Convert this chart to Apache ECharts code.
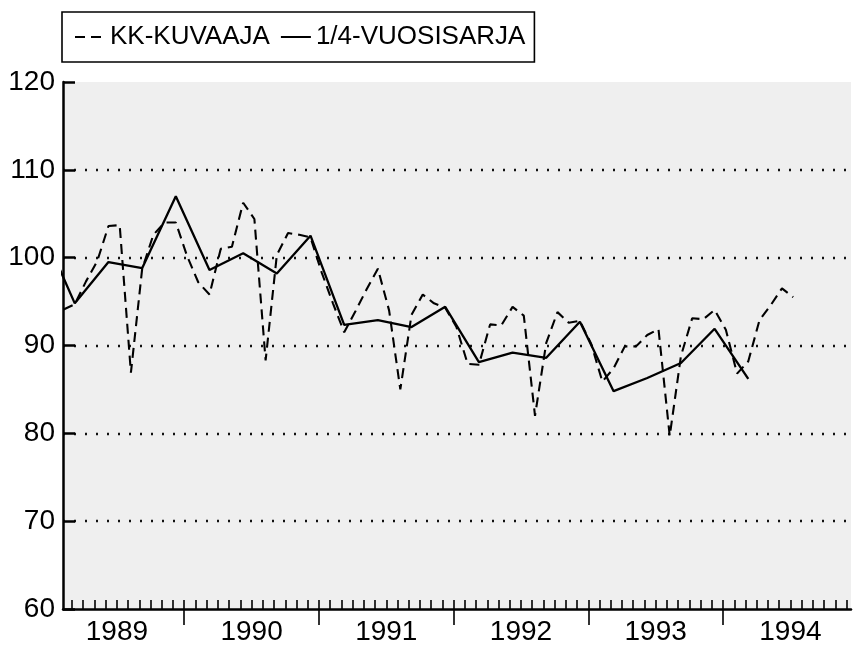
<!DOCTYPE html>
<html><head><meta charset="utf-8">
<script src="https://cdn.jsdelivr.net/npm/echarts@6/dist/echarts.min.js"></script>
<style>html,body{margin:0;padding:0;background:#fff}#c{width:854px;height:647px}</style>
</head><body><div id="c"></div>
<script>
// Tick / category labels
const years = ['1989', '1990', '1991', '1992', '1993', '1994'];
const yTicks = [60, 70, 80, 90, 100, 110, 120];
const seriesNames = ['KK-KUVAAJA', '1/4-VUOSISARJA'];

// Monthly series (KK-KUVAAJA), first value = Feb 1989 (month index 1 from Jan 1989)
const monthlyStart = 1;
const monthly = [
  94.1, 94.7, 97.3, 99.6, 103.6, 103.7, 86.9, 98.7, 102.6, 104.0, 104.0,
  100.2, 97.2, 95.8, 101.0, 101.25, 106.25, 104.4, 88.3, 100.3, 102.8, 102.6, 102.3,
  98.3, 94.8, 91.5, 93.9, 96.4, 98.75, 94.0, 85.0, 93.5, 95.8, 94.8, 94.3,
  92.1, 87.9, 87.8, 92.4, 92.3, 94.4, 93.4, 82.0, 90.3, 93.8, 92.6, 92.8,
  90.2, 85.9, 87.4, 89.9, 89.9, 91.2, 91.85, 79.7, 88.8, 93.1, 93.0, 94.05,
  91.8, 86.8, 88.2, 92.9, 94.6, 96.5, 95.5
];

// Quarterly series (1/4-VUOSISARJA), plotted at last month of quarter; first = Q4 1988
const quarterlyStart = -1;
const quarterly = [
  103.5, 94.8, 99.5, 98.8, 107.0, 98.6, 100.5, 98.2, 102.5,
  92.35, 92.9, 92.1, 94.4, 88.1, 89.2, 88.6, 92.7,
  84.8, 86.3, 88.0, 91.9, 86.2
];

const PLOT_OFFSET = 0.25;   // position of a month's point within its month slot
const X_MIN = 1.2, X_MAX = 71.4;
const FONT = '"Liberation Sans", Arial, Helvetica, sans-serif';

const monthlyData = monthly.map((v, i) => [monthlyStart + i + PLOT_OFFSET, v]);
const quarterlyData = quarterly.map((v, i) => [quarterlyStart + 3 * i + PLOT_OFFSET, v]);

const monthTicks = [];
for (let m = Math.ceil(X_MIN); m <= Math.floor(X_MAX); m++) monthTicks.push(m);
const yearTicks = [];
for (let m = 12; m < X_MAX; m += 12) yearTicks.push(m);
const yearLabelPos = years.map((y, i) => 6 + 12 * i);

const chart = echarts.init(document.getElementById('c'), null, {renderer: 'canvas'});
chart.setOption({
  animation: false,
  backgroundColor: '#ffffff',
  textStyle: {fontFamily: FONT},
  legend: {
    left: 62, top: 12,
    itemWidth: 30, itemHeight: 14, itemGap: 10,
    padding: [12, 9, 12, 12],
    borderColor: '#000', borderWidth: 1.6,
    itemStyle: {opacity: 0},
    textStyle: {fontSize: 26, color: '#000', fontFamily: FONT},
    data: seriesNames
  },
  grid: {
    left: 63, right: 3, top: 82, bottom: 38,
    show: true, backgroundColor: '#efefef', borderWidth: 0
  },
  xAxis: [{
    type: 'value', min: X_MIN, max: X_MAX, position: 'bottom',
    axisLine: {show: true, onZero: false, lineStyle: {color: '#000', width: 2.5}},
    axisTick: {show: true, inside: true, length: 9, customValues: monthTicks,
      lineStyle: {color: '#000', width: 1.6}},
    axisLabel: {show: true, customValues: yearLabelPos, margin: 9,
      formatter: v => years[Math.round((v - 6) / 12)],
      fontSize: 28, color: '#000', fontFamily: FONT},
    splitLine: {show: false}
  }, {
    type: 'value', min: X_MIN, max: X_MAX, position: 'bottom',
    axisLine: {show: false, onZero: false},
    axisTick: {show: true, inside: false, length: 16, customValues: yearTicks,
      lineStyle: {color: '#000', width: 1.6}},
    axisLabel: {show: false},
    splitLine: {show: false}
  }],
  yAxis: {
    type: 'value', min: yTicks[0], max: yTicks[yTicks.length - 1], interval: 10,
    axisLine: {show: true, onZero: false, lineStyle: {color: '#000', width: 2.5}},
    axisTick: {show: true, inside: true, length: 12, lineStyle: {color: '#000', width: 2.5}},
    axisLabel: {margin: 8, fontSize: 28, color: '#000', fontFamily: FONT},
    splitLine: {show: true, showMinLine: false, showMaxLine: false,
      lineStyle: {color: '#111', width: 2.4, type: [2, 9]}}
  },
  series: [{
    name: seriesNames[0], type: 'line', data: monthlyData,
    symbol: 'none', clip: true, xAxisIndex: 0,
    lineStyle: {color: '#000', width: 2.1, type: [10, 6]},
    itemStyle: {color: '#000'}
  }, {
    name: seriesNames[1], type: 'line', data: quarterlyData,
    symbol: 'none', clip: true, xAxisIndex: 0,
    lineStyle: {color: '#000', width: 2.3, type: 'solid'},
    itemStyle: {color: '#000'}
  }]
});
</script>
</body></html>
